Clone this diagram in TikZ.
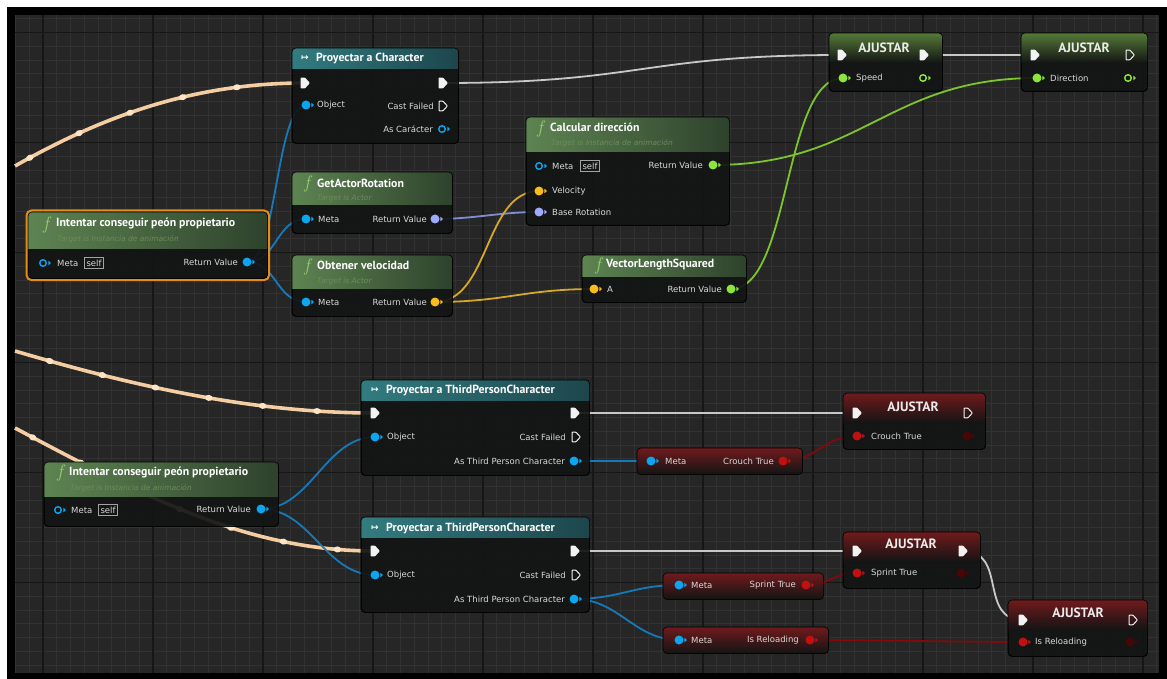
\documentclass[tikz,border=0pt]{standalone}
\usepackage{fontspec}
\newfontfamily\pinfont{DejaVu Sans}
\newfontfamily\ttlfont{PT Sans}
\usetikzlibrary{decorations.markings}
\pgfdeclarelayer{bg}
\pgfdeclarelayer{wires}
\pgfsetlayers{bg,wires,main}

\definecolor{bgc}{RGB}{38,38,38}
\definecolor{minorc}{RGB}{50,50,50}
\definecolor{majorc}{RGB}{22,22,22}
\definecolor{bodyc}{RGB}{19,20,20}
\definecolor{castL}{RGB}{50,124,128}
\definecolor{castR}{RGB}{28,70,76}
\definecolor{funL}{RGB}{94,132,82}
\definecolor{funR}{RGB}{46,66,44}
\definecolor{glowG}{RGB}{86,122,56}
\definecolor{glowR}{RGB}{112,26,28}
\definecolor{execc}{RGB}{242,242,242}
\definecolor{wireE}{RGB}{200,200,200}
\definecolor{cream}{RGB}{244,206,162}
\definecolor{beadc}{RGB}{252,228,196}
\definecolor{pinB}{RGB}{12,165,240}
\definecolor{wireB}{RGB}{22,122,185}
\definecolor{pinL}{RGB}{160,170,250}
\definecolor{wireL}{RGB}{130,140,210}
\definecolor{pinY}{RGB}{250,188,28}
\definecolor{wireY}{RGB}{214,168,38}
\definecolor{pinG}{RGB}{140,228,60}
\definecolor{wireGr}{RGB}{124,198,44}
\definecolor{pinR}{RGB}{192,16,16}
\definecolor{wireR}{RGB}{128,10,12}
\definecolor{pinRd}{RGB}{72,6,6}
\definecolor{lbl}{RGB}{218,218,218}
\definecolor{subc}{RGB}{104,142,88}
\definecolor{fcol}{RGB}{150,208,110}
\definecolor{selc}{RGB}{230,140,20}

\tikzset{
  body/.style={draw=black, line width=0.6pt, fill=bodyc, fill opacity=0.92,
    rounded corners=4pt, inner sep=0pt, anchor=north west},
  lab/.style={font=\pinfont\fontsize{8.5}{10}\selectfont, text=lbl, inner sep=0pt},
  labL/.style={lab, anchor=west},
  labR/.style={lab, anchor=east},
  selfbox/.style={lab, anchor=west, draw=lbl!75!black, line width=0.6pt, inner xsep=2.2pt, inner ysep=2.4pt},
  ttl/.style={font=\ttlfont\bfseries\fontsize{11.8}{13}\selectfont, text=white, inner sep=0pt, anchor=west},
  ttlc/.style={font=\ttlfont\bfseries\fontsize{13.5}{14}\selectfont, text=white!92!black, inner sep=0pt, anchor=center},
  sub/.style={font=\pinfont\itshape\fontsize{7.5}{9}\selectfont, text=subc, inner sep=0pt, anchor=west},
  fic/.style={font=\rmfamily\itshape\fontsize{18}{18}\selectfont, text=fcol, inner sep=0pt, anchor=center},
  icn/.style={font=\pinfont\bfseries\fontsize{9}{9}\selectfont, text=white, inner sep=0pt, anchor=center},
  ew/.style={draw=wireE, line width=1.8pt},
  bw/.style={draw=wireB, line width=1.8pt},
  lw/.style={draw=wireL, line width=1.8pt},
  yw/.style={draw=wireY, line width=1.8pt},
  gw/.style={draw=wireGr, line width=1.8pt},
  rw/.style={draw=wireR, line width=1.8pt},
  cw/.style n args={3}{draw=cream, line width=3.6pt, postaction={decorate,
    decoration={markings, mark=between positions #1 and #2 step #3 with
    {\fill[beadc] (0,0) ellipse (3.8pt and 3pt);}}}},
}

% box: name, x, y, w, h
\newcommand{\ueBox}[5]{\node[body, minimum width=#4pt, minimum height=#5pt] (#1) at (#2,#3) {};}
% header: name, height, shading
\newcommand{\ueHead}[3]{%
  \begin{scope}
  \clip[rounded corners=4pt] (#1.north west) rectangle (#1.south east);
  \shade[#3] (#1.north west) rectangle ([yshift=-#2pt]#1.north east);
  \end{scope}
  \draw[black, line width=0.6pt, rounded corners=4pt] (#1.north west) rectangle (#1.south east);}
% filled data pin: name, pos, colour
\newcommand{\ueD}[3]{%
  \node[circle, fill=#3, inner sep=0pt, minimum size=9pt] (#1) at (#2) {};
  \fill[#3] (#1.center) ++(5.3,-2.4) -- ++(2.6,2.4) -- ++(-2.6,2.4) -- cycle;}
% hollow data pin
\newcommand{\ueH}[3]{%
  \node[circle, draw=#3, line width=1.4pt, inner sep=0pt, minimum size=6.6pt] (#1) at (#2) {};
  \fill[#3] (#1.center) ++(5.3,-2.4) -- ++(2.6,2.4) -- ++(-2.6,2.4) -- cycle;}
% filled exec pin
\newcommand{\ueX}[2]{%
  \coordinate (#1) at (#2);
  \fill[execc, rounded corners=0.7pt] (#1) ++(-4.5,-5.3) -- ++(4.6,0) -- ++(4.8,5.3) -- ++(-4.8,5.3) -- ++(-4.6,0) -- cycle;}
% hollow exec pin
\newcommand{\ueXh}[2]{%
  \coordinate (#1) at (#2);
  \draw[execc, line width=1pt, rounded corners=0.7pt] (#1) ++(-4,-4.8) -- ++(4,0) -- ++(4.4,4.8) -- ++(-4.4,4.8) -- ++(-4,0) -- cycle;}

\begin{document}
\begin{tikzpicture}[x=1pt,y=-1pt]
\useasboundingbox (0,0) rectangle (1167,679);

\begin{pgfonlayer}{bg}
\fill[white] (0,0) rectangle (1167,679);
\fill[black] (7,7) rectangle (1167,679);
\fill[bgc] (15,15) rectangle (1159,673);
\begin{scope}
\clip (15,15) rectangle (1159,673);
\foreach \i in {-3,...,83} \draw[minorc, line width=0.6pt] ({43+\i*13.75},15) -- ++(0,658);
\foreach \j in {-2,...,47} \draw[minorc, line width=0.6pt] (15,{32.5+\j*13.75}) -- ++(1144,0);
\foreach \i in {-1,...,10} \draw[majorc, line width=1.1pt] ({43+\i*110},15) -- ++(0,658);
\foreach \j in {-1,...,6} \draw[majorc, line width=1.1pt] (15,{32.5+\j*110}) -- ++(1144,0);
\end{scope}
\end{pgfonlayer}

% ================= upper graph =================
% Proyectar a Character
\ueBox{c1}{292}{48}{166}{95}
\ueHead{c1}{21}{left color=castL, right color=castR}
\node[icn] (c1i) at (305,58) {↦};
\node[ttl] (c1t) at (316,58) {Proyectar a Character};
\ueX{c1ei}{305,83} \ueX{c1eo}{443,83}
\ueD{c1ob}{306,105}{pinB} \node[labL] (c1l1) at (317,105) {Object};
\node[labR] (c1l2) at (434,106) {Cast Failed}; \ueXh{c1cf}{443,106}
\node[labR] (c1l3) at (433,129) {As Carácter}; \ueH{c1ac}{442,129}{pinB}

% GetActorRotation
\ueBox{g2}{292}{172}{160}{61}
\ueHead{g2}{33}{left color=funL, right color=funR}
\node[fic] (g2f) at (307,184) {f};
\node[ttl] (g2t) at (317,183) {GetActorRotation};
\node[sub] (g2s) at (317,198) {Target is Actor};
\ueD{g2m}{306,219}{pinB} \node[labL] (g2l1) at (318,219) {Meta};
\node[labR] (g2l2) at (427,219) {Return Value}; \ueD{g2r}{435,219}{pinL}

% Obtener velocidad
\ueBox{g3}{292}{255}{160}{61}
\ueHead{g3}{33}{left color=funL, right color=funR}
\node[fic] (g3f) at (307,267) {f};
\node[ttl] (g3t) at (317,265) {Obtener velocidad};
\node[sub] (g3s) at (317,281) {Target is Actor};
\ueD{g3m}{306,302}{pinB} \node[labL] (g3l1) at (318,302) {Meta};
\node[labR] (g3l2) at (427,302) {Return Value}; \ueD{g3r}{435,302}{pinY}

% Intentar conseguir (selected)
\ueBox{i4}{28}{212}{239}{66}
\ueHead{i4}{36}{left color=funL, right color=funR}
\draw[selc, line width=2pt, rounded corners=5pt] ([shift={(-1.5pt,1.5pt)}]i4.north west) rectangle ([shift={(1.5pt,-1.5pt)}]i4.south east);
\node[fic] (i4f) at (46,225) {f};
\node[ttl] (i4t) at (56,224) {Intentar conseguir peón propietario};
\node[sub] (i4s) at (57,239) {Target is Instancia de animación};
\ueH{i4m}{43,263}{pinB} \node[labL] (i4l1) at (57,263) {Meta};
\node[selfbox] (i4self) at (84,263) {self};
\node[labR] (i4l2) at (238,262) {Return Value}; \ueD{i4r}{247,262}{pinB}

% Calcular dirección
\ueBox{c5}{526}{117}{203}{108}
\ueHead{c5}{35}{left color=funL, right color=funR}
\node[fic] (c5f) at (540,129) {f};
\node[ttl] (c5t) at (550,127) {Calcular dirección};
\node[sub] (c5s) at (551,143) {Target is Instancia de animación};
\ueH{c5m}{539,166}{pinB} \node[labL] (c5l1) at (552,166) {Meta};
\node[selfbox] (c5self) at (580,166) {self};
\node[labR] (c5l2) at (703,165) {Return Value}; \ueD{c5r}{713,165}{pinG}
\ueD{c5vel}{539,191}{pinY} \node[labL] (c5l3) at (552,191) {Velocity};
\ueD{c5br}{539,212}{pinL} \node[labL] (c5l4) at (552,212) {Base Rotation};

% VectorLengthSquared
\ueBox{v6}{582}{255}{164}{47}
\ueHead{v6}{21}{left color=funL, right color=funR}
\node[fic] (v6f) at (598,266) {f};
\node[ttl] (v6t) at (606,265) {VectorLengthSquared};
\ueD{v6a}{594,289}{pinY} \node[labL] (v6l1) at (607,289) {A};
\node[labR] (v6l2) at (722,289) {Return Value}; \ueD{v6r}{731,289}{pinG}

% AJUSTAR Speed
\ueBox{a7}{829}{33}{113}{58}
\ueHead{a7}{30}{top color=glowG, bottom color=bodyc}
\node[ttlc] (a7t) at (884,48) {AJUSTAR};
\ueX{a7ei}{842,55} \ueX{a7eo}{924,55}
\ueD{a7sp}{843,78}{pinG} \node[labL] (a7l) at (856,78) {Speed};
\ueH{a7o}{923,78}{pinG}

% AJUSTAR Direction
\ueBox{a8}{1021}{33}{126}{58}
\ueHead{a8}{30}{top color=glowG, bottom color=bodyc}
\node[ttlc] (a8t) at (1084,48) {AJUSTAR};
\ueX{a8ei}{1035,55} \ueXh{a8eo}{1130,55}
\ueD{a8dir}{1037,78}{pinG} \node[labL] (a8l) at (1050,78) {Direction};
\ueH{a8o}{1128,78}{pinG}

% ================= lower graph =================
% Proyectar a ThirdPersonCharacter (1)
\ueBox{c9}{361}{380}{228}{95}
\ueHead{c9}{20}{left color=castL, right color=castR}
\node[icn] (c9i) at (375,390) {↦};
\node[ttl] (c9t) at (386,390) {Proyectar a ThirdPersonCharacter};
\ueX{c9ei}{375,413} \ueX{c9eo}{575,413}
\ueD{c9ob}{375,437}{pinB} \node[labL] (c9l1) at (387,437) {Object};
\node[labR] (c9l2) at (566,437) {Cast Failed}; \ueXh{c9cf}{576,437}
\node[labR] (c9l3) at (565,461) {As Third Person Character}; \ueD{c9at}{574,461}{pinB}

% Proyectar a ThirdPersonCharacter (2)
\ueBox{c10}{361}{517}{228}{95}
\ueHead{c10}{20}{left color=castL, right color=castR}
\node[icn] (c10i) at (375,528) {↦};
\node[ttl] (c10t) at (386,528) {Proyectar a ThirdPersonCharacter};
\ueX{c10ei}{375,551} \ueX{c10eo}{575,551}
\ueD{c10ob}{375,575}{pinB} \node[labL] (c10l1) at (387,575) {Object};
\node[labR] (c10l2) at (566,575) {Cast Failed}; \ueXh{c10cf}{576,575}
\node[labR] (c10l3) at (565,599) {As Third Person Character}; \ueD{c10at}{574,599}{pinB}

% Intentar conseguir (2)
\ueBox{i11}{44}{462}{234}{64}
\ueHead{i11}{34}{left color=funL, right color=funR}
\node[fic] (i11f) at (60,473) {f};
\node[ttl] (i11t) at (69,472) {Intentar conseguir peón propietario};
\node[sub] (i11s) at (70,488) {Target is Instancia de animación};
\ueH{i11m}{58,510}{pinB} \node[labL] (i11l1) at (71,510) {Meta};
\node[selfbox] (i11self) at (98,510) {self};
\node[labR] (i11l2) at (251,509) {Return Value}; \ueD{i11r}{261,509}{pinB}

% variable getters
\ueBox{varcr}{637}{448}{165}{26}
\ueHead{varcr}{26}{top color=glowR, bottom color=bodyc}
\ueD{varcrm}{651,461}{pinB} \node[labL] (varcrl1) at (665,461) {Meta};
\node[labR] (varcrl2) at (774,461) {Crouch True}; \ueD{varcrv}{783,461}{pinR}

\ueBox{varsp}{663}{573}{160}{26}
\ueHead{varsp}{26}{top color=glowR, bottom color=bodyc}
\ueD{varspm}{679,585}{pinB} \node[labL] (varspl1) at (691,585) {Meta};
\node[labR] (varspl2) at (796,585) {Sprint True}; \ueD{varspv}{806,585}{pinR}

\ueBox{varrl}{663}{627}{165}{26}
\ueHead{varrl}{26}{top color=glowR, bottom color=bodyc}
\ueD{varrlm}{679,640}{pinB} \node[labL] (varrll1) at (691,640) {Meta};
\node[labR] (varrll2) at (799,640) {Is Reloading}; \ueD{varrlv}{810,640}{pinR}

% AJUSTAR Crouch True
\ueBox{ajcr}{843}{393}{142}{56}
\ueHead{ajcr}{30}{top color=glowR, bottom color=bodyc}
\node[ttlc] (ajcrt) at (913,407) {AJUSTAR};
\ueX{ajcrei}{857,413} \ueXh{ajcreo}{968,413}
\ueD{ajcrv}{857,436}{pinR} \node[labL] (ajcrl) at (871,436) {Crouch True};
\ueD{ajcro}{967,436}{pinRd}

% AJUSTAR Sprint True
\ueBox{ajsp}{843}{532}{137}{56}
\ueHead{ajsp}{30}{top color=glowR, bottom color=bodyc}
\node[ttlc] (ajspt) at (911,544) {AJUSTAR};
\ueX{ajspei}{857,551} \ueX{ajspeo}{963,551}
\ueD{ajspv}{857,573}{pinR} \node[labL] (ajspl) at (871,573) {Sprint True};
\ueD{ajspo}{961,573}{pinRd}

% AJUSTAR Is Reloading
\ueBox{ajrl}{1008}{600}{139}{56}
\ueHead{ajrl}{30}{top color=glowR, bottom color=bodyc}
\node[ttlc] (ajrlt) at (1078,613) {AJUSTAR};
\ueX{ajrlei}{1023,620} \ueXh{ajrleo}{1133,620}
\ueD{ajrlv}{1023,642}{pinR} \node[labL] (ajrll) at (1035,642) {Is Reloading};
\ueD{ajrlo}{1130,642}{pinRd}

% free ends of the incoming exec wires
\coordinate (s1) at (15,166);
\coordinate (s2) at (15,351);
\coordinate (s3) at (15,428);

% ================= wires =================
\begin{pgfonlayer}{wires}
\draw[cw={17pt}{260pt}{55pt}] (s1) .. controls (110,112) and (200,83) .. (c1ei);
\draw[ew] (c1eo) .. controls +(200,0) and +(-200,0) .. (a7ei);
\draw[ew] (a7eo) -- (a8ei);
\draw[bw] (i4r.center) .. controls +(30,0) and +(-30,0) .. (c1ob.center);
\draw[bw] (i4r.center) .. controls +(30,0) and +(-30,0) .. (g2m.center);
\draw[bw] (i4r.center) .. controls +(30,0) and +(-30,0) .. (g3m.center);
\draw[lw] (g2r.center) .. controls +(40,0) and +(-40,0) .. (c5br.center);
\draw[yw] (g3r.center) .. controls +(55,0) and +(-55,0) .. (c5vel.center);
\draw[yw] (g3r.center) .. controls +(70,0) and +(-70,0) .. (v6a.center);
\draw[gw] (c5r.center) .. controls +(150,0) and +(-150,0) .. (a8dir.center);
\draw[gw] (v6r.center) .. controls +(60,0) and +(-60,0) .. (a7sp.center);

\draw[cw={36pt}{340pt}{54.5pt}] (s2) .. controls (130,385) and (250,413) .. (c9ei);
\draw[cw={20pt}{380pt}{54.5pt}] (s3) .. controls (150,500) and (250,551) .. (c10ei);
\draw[bw] (i11r.center) .. controls +(50,0) and +(-50,0) .. (c9ob.center);
\draw[bw] (i11r.center) .. controls +(50,0) and +(-50,0) .. (c10ob.center);
\draw[ew] (c9eo) -- (ajcrei);
\draw[bw] (c9at.center) -- (varcrm.center);
\draw[rw] (varcrv.center) .. controls +(35,0) and +(-35,0) .. (ajcrv.center);
\draw[ew] (c10eo) -- (ajspei);
\draw[bw] (c10at.center) .. controls +(45,0) and +(-45,0) .. (varspm.center);
\draw[bw] (c10at.center) .. controls +(45,0) and +(-45,0) .. (varrlm.center);
\draw[rw] (varspv.center) .. controls +(25,0) and +(-25,0) .. (ajspv.center);
\draw[rw] (varrlv.center) .. controls +(50,0) and +(-50,0) .. (ajrlv.center);
\draw[ew] (ajspeo) .. controls +(45,0) and +(-45,0) .. (ajrlei);
\end{pgfonlayer}
\end{tikzpicture}
\end{document}
